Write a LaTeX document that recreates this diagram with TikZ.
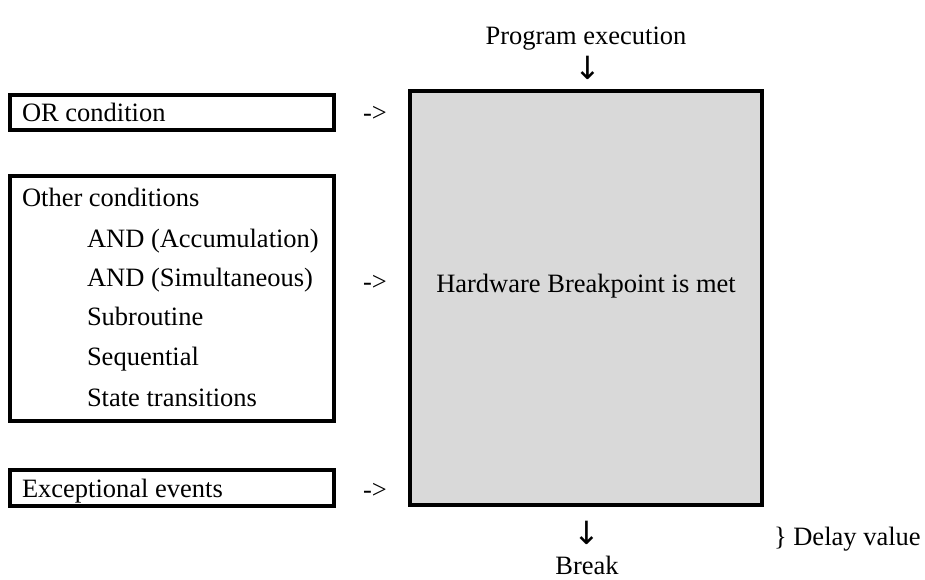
\documentclass[tikz,border=0pt]{standalone}
\usepackage{fontspec}
\setmainfont{Liberation Serif}
\newfontfamily\arrfont{DejaVu Sans}
\begin{document}
\begin{tikzpicture}[x=1pt,y=-1pt,
  every node/.style={font=\fontsize{26.5}{31}\selectfont, inner sep=0pt, outer sep=0pt},
  condbox/.style={draw=black, line width=4pt, fill=white},
  lbl/.style={anchor=base west},
  ctr/.style={anchor=base},
  arrtext/.style={font=\fontsize{32}{38}\arrfont, anchor=center}]
\useasboundingbox (0,0) rectangle (925,580);
% boxes
\draw[condbox] (10,95) rectangle (334,130);
\draw[condbox] (10,176) rectangle (334,421);
\draw[condbox] (10,470) rectangle (334,506);
\draw[draw=black, line width=4pt, fill={rgb,255:red,217;green,217;blue,217}] (410,91) rectangle (762,505);
% left texts
\node[lbl] (orc) at (22,122) {OR condition};
\node[lbl] (oth) at (22,206) {Other conditions};
\node[lbl] (acc) at (87,247) {AND (Accumulation)};
\node[lbl] (sim) at (87,286) {AND (Simultaneous)};
\node[lbl] (sub) at (87,325) {Subroutine};
\node[lbl] (seq) at (87,365) {Sequential};
\node[lbl] (st) at (87,406) {State transitions};
\node[lbl] (exc) at (22,497) {Exceptional events};
% -> marks
\node[ctr] (a1) at (375,122) {->};
\node[ctr] (a2) at (375,290) {->};
\node[ctr] (a3) at (375,498) {->};
% centre
\node[ctr] (hw) at (586,292) {Hardware Breakpoint is met};
\node[ctr] (pe) at (586,45) {Program execution};
\node[arrtext] (d1) at (588,68) {↓};
\node[arrtext] (d2) at (587,533) {↓};
\node[ctr] (br) at (587,574) {Break};
\node[lbl] (dv) at (774,545) {\} Delay value};
\end{tikzpicture}
\end{document}
